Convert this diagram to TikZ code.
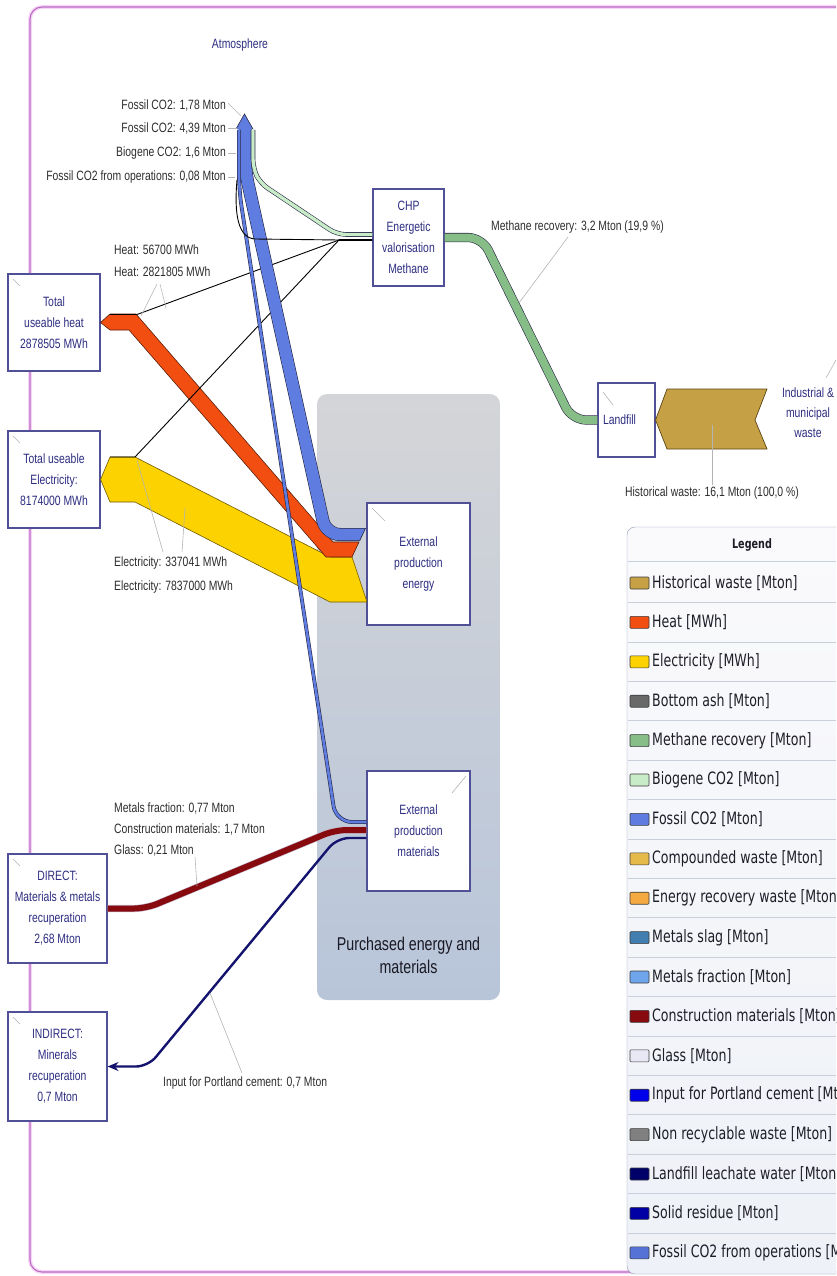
\documentclass[tikz,border=0pt]{standalone}
\usepackage{fontspec}
\setmainfont{Liberation Sans}[FakeStretch=0.77]
\newfontfamily\legendfont{DejaVu Sans}[FakeStretch=0.74]
\usetikzlibrary{arrows.meta}

\definecolor{framecol}{RGB}{185,105,195}
\definecolor{frameglow}{RGB}{246,214,246}
\definecolor{boxline}{RGB}{80,80,150}
\definecolor{boxtext}{RGB}{45,45,130}
\definecolor{lbltext}{RGB}{45,45,45}
\definecolor{leadgray}{RGB}{180,180,180}
\definecolor{bandline}{RGB}{40,40,70}
\definecolor{co2blue}{RGB}{95,125,225}
\definecolor{heatred}{RGB}{242,78,18}
\definecolor{heatline}{RGB}{90,30,10}
\definecolor{elecyellow}{RGB}{252,210,0}
\definecolor{elecline}{RGB}{110,90,0}
\definecolor{methgreen}{RGB}{135,190,135}
\definecolor{biogreen}{RGB}{200,235,200}
\definecolor{histgold}{RGB}{198,160,68}
\definecolor{goldline}{RGB}{90,70,20}
\definecolor{conred}{RGB}{135,10,15}
\definecolor{conedge}{RGB}{195,185,205}
\definecolor{metblue}{RGB}{110,165,235}
\definecolor{navyflow}{RGB}{20,20,110}
\definecolor{purtop}{RGB}{212,213,216}
\definecolor{purbot}{RGB}{184,197,217}
\definecolor{purtext}{RGB}{25,25,35}
\definecolor{legtop}{RGB}{250,250,252}
\definecolor{legbot}{RGB}{238,241,247}
\definecolor{legline}{RGB}{140,150,175}
\definecolor{legsep}{RGB}{202,207,220}
\definecolor{legtextcol}{RGB}{30,30,40}
\definecolor{swatchline}{RGB}{60,60,60}
\definecolor{bottomash}{RGB}{105,105,105}
\definecolor{compwaste}{RGB}{230,185,75}
\definecolor{energywaste}{RGB}{245,170,65}
\definecolor{metslag}{RGB}{65,125,175}
\definecolor{glasscol}{RGB}{232,232,245}
\definecolor{portland}{RGB}{0,0,235}
\definecolor{nonrec}{RGB}{128,128,128}
\definecolor{leachate}{RGB}{0,0,105}
\definecolor{solidres}{RGB}{0,0,165}
\definecolor{fossilops}{RGB}{85,115,215}

\newcommand\boxfont{\fontsize{13.5}{21}\selectfont}
\newcommand\lblfont{\fontsize{13.5}{16}\selectfont}
\newcommand\legfont{\legendfont\fontsize{17}{19}\selectfont}

\begin{document}
\begin{tikzpicture}[x=1pt,y=-1pt,
    box/.style={draw=boxline,fill=white,line width=1.1pt,text=boxtext,
      align=center,font=\boxfont,inner sep=0pt},
    lbl/.style={text=lbltext,font=\lblfont,inner sep=0pt},
    leader/.style={draw=leadgray,line width=0.6pt},
    band/.style={draw=bandline,line width=0.6pt,double=#1},
    legtext/.style={text=legtextcol,font=\legfont,inner sep=0pt,anchor=west}]

\useasboundingbox (0,0) rectangle (836,1276);
\clip (0,0) rectangle (836,1276);

% frame
\draw[frameglow,line width=4pt,rounded corners=12] (845,7) -- (30,7) -- (30,1272) -- (845,1272);
\draw[framecol,line width=1.1pt,rounded corners=12] (845,7) -- (30,7) -- (30,1272) -- (845,1272);

% purchased energy and materials
\node[rounded corners=10,top color=purtop,bottom color=purbot,minimum width=183,minimum height=606,inner sep=0pt] (purchased) at (408.5,697) {};
\node[text=purtext,font=\fontsize{18.5}{23}\selectfont,align=center] (purchtxt) at (408.5,955) {Purchased energy and\\materials};

% legend
\draw[legline,top color=legtop,bottom color=legbot,rounded corners=8] (627,527) rectangle (880,1274);
\draw[legsep,line width=1pt] (628,561) -- (836,561);
\foreach \i in {0,...,16}
  \draw[legsep,line width=1pt] (628,{602.7+39.4*\i}) -- (836,{602.7+39.4*\i});
\node[text=legtextcol,font=\legendfont\bfseries\fontsize{13}{15}\selectfont] (legtitle) at (752,545) {Legend};
\foreach \col/\lab [count=\i from 0] in {histgold/Historical waste [Mton],
    heatred/Heat [MWh], elecyellow/Electricity [MWh], bottomash/Bottom ash [Mton],
    methgreen/Methane recovery [Mton], biogreen/Biogene CO2 [Mton],
    co2blue/Fossil CO2 [Mton], compwaste/Compounded waste [Mton],
    energywaste/Energy recovery waste [Mton], metslag/Metals slag [Mton],
    metblue/Metals fraction [Mton], conred/Construction materials [Mton],
    glasscol/Glass [Mton], portland/Input for Portland cement [Mton],
    nonrec/Non recyclable waste [Mton], leachate/Landfill leachate water [Mton],
    solidres/Solid residue [Mton], fossilops/Fossil CO2 from operations [Mton]}{
  \draw[swatchline,fill=\col,line width=0.6pt,rounded corners=1] (630,{577+39.4*\i}) rectangle (649,{589+39.4*\i});
  \node[legtext] (leg\i) at (652,{583+39.4*\i}) {\lab};
}

% boxes
\node[text=boxtext,font=\boxfont] (atmo) at (240,45) {Atmosphere};
\node[box,minimum width=71,minimum height=97] (chp) at (408.5,237.5) {CHP\\Energetic\\valorisation\\Methane};
\node[box,minimum width=57,minimum height=74,text width=47,align=left] (landfill) at (626.5,420) {Landfill};
\node[text=boxtext,font=\fontsize{13.5}{20}\selectfont,align=center] (industrial) at (808,413) {Industrial \&\\municipal\\waste};
\node[box,minimum width=92,minimum height=97] (heat) at (54,322.5) {Total\\useable heat\\2878505 MWh};
\node[box,minimum width=92,minimum height=97] (elec) at (54,479.5) {Total useable\\Electricity:\\8174000 MWh};
\node[box,minimum width=99,minimum height=109] (direct) at (57.5,908.5) {DIRECT:\\Materials \& metals\\recuperation\\2,68 Mton};
\node[box,minimum width=99,minimum height=109] (indirect) at (57.5,1066.5) {INDIRECT:\\Minerals\\recuperation\\0,7 Mton};
\node[box,minimum width=103,minimum height=122] (extenergy) at (418.5,564) {External\\production\\energy};
\node[box,minimum width=103,minimum height=120] (extmat) at (418.5,831) {External\\production\\materials};

% small ticks in the boxes
\draw[leader] (13,279) -- (20,286);
\draw[leader] (13,436) -- (20,443);
\draw[leader] (13,859) -- (20,866);
\draw[leader] (13,1017) -- (20,1024);
\draw[leader] (603,392) -- (613,405);
\draw[leader] (372,508) -- (385,521);
\draw[leader] (466,776) -- (452,793);

\coordinate (jn) at (339,240);

% electricity
\draw[draw=elecline,fill=elecyellow,line width=0.6pt] (110,457) -- (135,457) -- (330,557) -- (352,557) -- (367,602) -- (330,602) -- (135,502) -- (110,502) -- (elec.east) -- cycle;
% heat
\draw[draw=heatline,fill=heatred,line width=0.6pt] (110,314) -- (136,314) -- (333,542) -- (359,542) -- (352,557) -- (326,557) -- (129,330) -- (110,330) -- (heat.east) -- cycle;

% thin lines out of CHP
\draw[line width=0.9pt] ([yshift=-2]chp.west) -- (jn) -- (137,314.5) -- (110,314.5);
\draw[line width=0.9pt] ([yshift=-3]chp.west) -- (jn) -- (135,457) -- (110,457);
\draw[line width=2.2pt] ([yshift=-2.5]chp.west) -- (jn);

% methane
\draw[band=methgreen,double distance=8pt,rounded corners=14] (landfill.west) -- (572,420) -- (482,237.5) -- (chp.east);

% fossil CO2 from energy
\begin{scope}
  \clip (0,0) -- (367,0) -- (367,525) -- (351,559) -- (367,602) -- (367,1276) -- (0,1276) -- cycle;
  \draw[band=co2blue,double distance=11.8pt,rounded corners=14] ([yshift=29.5]extenergy.west) -- (326,534.5) -- (245,170) -- (245,127);
\end{scope}
\draw[bandline,line width=0.6pt] (365.6,528) -- (359.6,541);

% fossil CO2 from materials
\draw[band=co2blue,double distance=2.6pt,rounded corners=16] ([yshift=9]extmat.west) -- (336,822) -- (239,190) -- (239,130);

% biogene CO2
\draw[band=biogreen,double distance=3.4pt,rounded corners=9] ([yshift=3]chp.west) -- (337,234.5) -- (260,183) -- (253,168) -- (253,130);

% fossil CO2 from operations
\draw[line width=0.9pt] (jn) -- (255,239) .. controls (238,238) and (234,214) .. (237,180);

% atmosphere tip
\fill[co2blue] (236,129) -- (244.5,114) -- (253,129) -- cycle;
\draw[bandline,line width=0.6pt] (236,129) -- (244.5,114) -- (253,129);

% materials
\draw[band=conred,draw=conedge,double distance=6pt,rounded corners=12] ([yshift=1]extmat.west) -- (335,830) -- (146,908.5) -- (direct.east);
\draw[navyflow,line width=2.4pt,rounded corners=12,-{Stealth[length=11pt,width=9pt]}] ([yshift=-7]extmat.west) -- (337,838) -- (148,1066.5) -- (indirect.east);

% historical waste
\draw[draw=goldline,fill=histgold,line width=0.7pt] (landfill.east) -- (667,389) -- (767,389) -- (755,420) -- (767,449) -- (667,449) -- cycle;

% labels
\node[lbl,anchor=east] (co2a) at (226,105) {Fossil CO2: 1,78 Mton};
\node[lbl,anchor=east] (co2b) at (226,128) {Fossil CO2: 4,39 Mton};
\node[lbl,anchor=east] (bio) at (226,153) {Biogene CO2: 1,6 Mton};
\node[lbl,anchor=east] (co2ops) at (226,177) {Fossil CO2 from operations: 0,08 Mton};
\node[lbl,anchor=west] (heata) at (114,250) {Heat: 56700 MWh};
\node[lbl,anchor=west] (heatb) at (114,272) {Heat: 2821805 MWh};
\node[lbl,anchor=west] (eleca) at (114,563) {Electricity: 337041 MWh};
\node[lbl,anchor=west] (elecb) at (114,587) {Electricity: 7837000 MWh};
\node[lbl,anchor=west] (metals) at (114,808) {Metals fraction: 0,77 Mton};
\node[lbl,anchor=west] (constr) at (114,829) {Construction materials: 1,7 Mton};
\node[lbl,anchor=west] (glass) at (114,850) {Glass: 0,21 Mton};
\node[lbl,anchor=west] (cement) at (163,1083) {Input for Portland cement: 0,7 Mton};
\node[lbl,anchor=west] (methane) at (491,227) {Methane recovery: 3,2 Mton (19,9 \%)};
\node[lbl] (hist) at (712,493) {Historical waste: 16,1 Mton (100,0 \%)};

% leaders
\draw[leader] (228,103) -- (241,116);
\draw[leader] (228,128) -- (237,128);
\draw[leader] (228,153) -- (236,153);
\draw[leader] (228,177) -- (235,177);
\draw[leader] (157,284) -- (141,316);
\draw[leader] (160,284) -- (166,308);
\draw[leader] (163,552) -- (137,460);
\draw[leader] (182,552) -- (185,508);
\draw[leader] (195,857) -- (197,886);
\draw[leader] (242,1073) -- (210,993);
\draw[leader] (568,237) -- (519,303);
\draw[leader] (712,485) -- (712,425);
\draw[leader] (826,378) -- (836,360);
\end{tikzpicture}
\end{document}
